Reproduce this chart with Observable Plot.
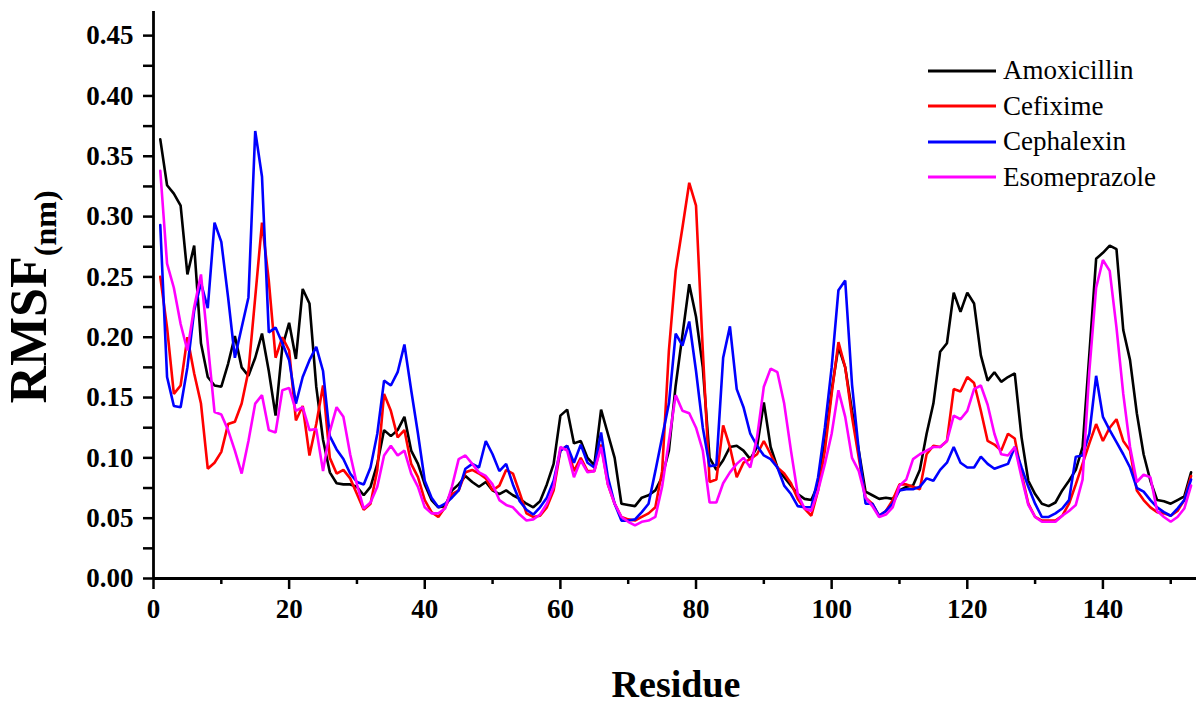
<!DOCTYPE html>
<html>
<head>
<meta charset="utf-8">
<script src="https://cdn.jsdelivr.net/npm/d3@7"></script>
<script src="https://cdn.jsdelivr.net/npm/@observablehq/plot@0.6"></script>
<style>
  html, body { margin: 0; padding: 0; background: #fff; }
  #wrap { position: relative; width: 1197px; height: 705px; overflow: hidden; }
  #legend { position: absolute; left: 928px; top: 53px; font-family: "Liberation Serif", "Times New Roman", Times, "DejaVu Serif", serif; font-size: 27px; color: #000; }
  #legend .row { display: flex; align-items: center; height: 35.5px; }
  #legend svg { margin-right: 7px; }
  svg text { font-family: "Liberation Serif", "Times New Roman", Times, "DejaVu Serif", serif; }
</style>
</head>
<body>
<div id="wrap"></div>
<script>
const residues = d3.range(1, 154);
const seriesNames = ["Amoxicillin", "Cefixime", "Cephalexin", "Esomeprazole"];
const seriesColors = ["#000000", "#ff0000", "#0000ff", "#ff00ff"];
const xTicks = [0, 20, 40, 60, 80, 100, 120, 140];
const xMinorTicks = [10, 30, 50, 70, 90, 110, 130, 150];
const yTicks = [0, 0.05, 0.10, 0.15, 0.20, 0.25, 0.30, 0.35, 0.40, 0.45];
const yMinorTicks = [0.025, 0.075, 0.125, 0.175, 0.225, 0.275, 0.325, 0.375, 0.425];

const amoxicillin = [
0.364,0.326,0.319,0.309,0.252,0.276,0.195,0.167,0.160,0.159,
0.178,0.201,0.175,0.168,0.183,0.203,0.172,0.135,0.192,0.212,
0.182,0.240,0.228,0.159,0.115,0.088,0.079,0.078,0.078,0.076,
0.069,0.076,0.095,0.123,0.118,0.123,0.134,0.106,0.095,0.078,
0.065,0.059,0.060,0.073,0.078,0.085,0.080,0.076,0.080,0.073,
0.070,0.073,0.069,0.066,0.062,0.059,0.064,0.078,0.095,0.135,
0.140,0.112,0.114,0.100,0.094,0.140,0.120,0.100,0.062,0.061,
0.060,0.067,0.069,0.073,0.084,0.106,0.160,0.202,0.244,0.217,
0.175,0.100,0.090,0.098,0.109,0.110,0.106,0.099,0.109,0.146,
0.109,0.092,0.084,0.077,0.070,0.066,0.065,0.078,0.112,0.156,
0.192,0.175,0.139,0.106,0.072,0.069,0.066,0.067,0.066,0.073,
0.076,0.077,0.090,0.120,0.145,0.188,0.195,0.237,0.221,0.237,
0.228,0.185,0.164,0.171,0.163,0.167,0.170,0.117,0.081,0.070,
0.062,0.060,0.063,0.073,0.081,0.090,0.109,0.186,0.265,0.270,
0.276,0.273,0.206,0.181,0.137,0.103,0.081,0.065,0.064,0.062,
0.065,0.068,0.088];

const cefixime = [
0.250,0.208,0.153,0.160,0.200,0.170,0.145,0.091,0.096,0.105,
0.128,0.130,0.145,0.172,0.233,0.295,0.247,0.183,0.200,0.189,
0.131,0.143,0.102,0.128,0.160,0.100,0.087,0.090,0.083,0.070,
0.057,0.062,0.090,0.153,0.139,0.117,0.123,0.095,0.084,0.065,
0.055,0.051,0.059,0.070,0.073,0.088,0.090,0.087,0.083,0.073,
0.077,0.090,0.087,0.071,0.054,0.051,0.052,0.059,0.073,0.106,
0.110,0.089,0.100,0.089,0.089,0.111,0.078,0.062,0.051,0.049,
0.048,0.051,0.054,0.059,0.089,0.189,0.255,0.291,0.328,0.309,
0.189,0.080,0.082,0.127,0.109,0.084,0.096,0.099,0.103,0.114,
0.103,0.092,0.087,0.079,0.066,0.058,0.052,0.073,0.106,0.153,
0.196,0.175,0.134,0.100,0.067,0.062,0.052,0.056,0.065,0.078,
0.078,0.076,0.074,0.103,0.110,0.109,0.114,0.157,0.155,0.167,
0.162,0.139,0.114,0.111,0.106,0.120,0.116,0.087,0.062,0.051,
0.048,0.048,0.048,0.052,0.062,0.078,0.095,0.112,0.128,0.114,
0.125,0.132,0.114,0.106,0.073,0.065,0.059,0.055,0.054,0.052,
0.056,0.065,0.085];

const cephalexin = [
0.293,0.167,0.143,0.142,0.175,0.222,0.245,0.224,0.295,0.279,
0.233,0.183,0.208,0.233,0.371,0.333,0.204,0.208,0.195,0.181,
0.145,0.167,0.181,0.192,0.172,0.118,0.107,0.099,0.087,0.080,
0.078,0.092,0.120,0.164,0.160,0.171,0.194,0.156,0.120,0.081,
0.067,0.059,0.062,0.067,0.073,0.091,0.095,0.092,0.114,0.103,
0.089,0.095,0.078,0.064,0.057,0.053,0.059,0.067,0.081,0.106,
0.110,0.096,0.111,0.096,0.092,0.121,0.084,0.062,0.048,0.048,
0.049,0.055,0.062,0.089,0.117,0.145,0.203,0.193,0.213,0.172,
0.125,0.093,0.094,0.183,0.209,0.157,0.142,0.120,0.110,0.102,
0.099,0.092,0.077,0.070,0.060,0.059,0.059,0.084,0.125,0.175,
0.239,0.247,0.161,0.106,0.062,0.062,0.052,0.056,0.062,0.073,
0.074,0.074,0.076,0.083,0.081,0.090,0.096,0.109,0.096,0.092,
0.092,0.101,0.095,0.091,0.093,0.095,0.109,0.092,0.076,0.062,
0.051,0.051,0.054,0.058,0.065,0.101,0.102,0.120,0.168,0.134,
0.123,0.113,0.103,0.092,0.075,0.072,0.065,0.059,0.055,0.052,
0.058,0.065,0.082];

const esomeprazole = [
0.338,0.261,0.241,0.211,0.189,0.225,0.252,0.195,0.138,0.136,
0.123,0.106,0.087,0.114,0.145,0.152,0.123,0.121,0.156,0.158,
0.139,0.142,0.123,0.124,0.089,0.122,0.142,0.134,0.103,0.078,
0.058,0.063,0.076,0.102,0.110,0.102,0.106,0.087,0.076,0.059,
0.054,0.054,0.058,0.076,0.099,0.102,0.095,0.088,0.085,0.078,
0.065,0.061,0.059,0.053,0.048,0.049,0.053,0.062,0.076,0.109,
0.106,0.084,0.098,0.088,0.089,0.109,0.078,0.062,0.051,0.047,
0.044,0.047,0.048,0.051,0.076,0.114,0.152,0.139,0.137,0.125,
0.106,0.063,0.063,0.079,0.088,0.095,0.100,0.092,0.117,0.159,
0.174,0.171,0.145,0.106,0.070,0.058,0.056,0.073,0.095,0.120,
0.156,0.134,0.100,0.089,0.067,0.060,0.051,0.053,0.059,0.077,
0.082,0.099,0.103,0.106,0.109,0.109,0.114,0.135,0.132,0.139,
0.157,0.160,0.144,0.120,0.103,0.102,0.109,0.084,0.061,0.051,
0.047,0.047,0.047,0.052,0.056,0.061,0.082,0.172,0.241,0.264,
0.255,0.208,0.153,0.109,0.080,0.086,0.084,0.056,0.051,0.047,
0.051,0.058,0.077];

const seriesValues = [amoxicillin, cefixime, cephalexin, esomeprazole];
const data = seriesNames.flatMap((name, k) =>
  seriesValues[k].map((v, i) => ({residue: residues[i], rmsf: v, drug: name})));

const font = '"Liberation Serif", "Times New Roman", Times, "DejaVu Serif", serif';

const chart = Plot.plot({
  width: 1197,
  height: 705,
  marginLeft: 153,
  marginRight: 1,
  marginTop: 11,
  marginBottom: 127,
  style: {fontFamily: font, background: "#fff", color: "#000"},
  x: {domain: [0, 153.8]},
  y: {domain: [0, 0.47]},
  color: {domain: seriesNames, range: seriesColors},
  marks: [
    Plot.axisX({ticks: xTicks, tickSize: 11, tickPadding: 9, tickFormat: d3.format("d"), fontSize: 27, fontWeight: "bold", strokeWidth: 2.5, label: null}),
    Plot.axisX({ticks: xMinorTicks, tickSize: 6, strokeWidth: 2.5, text: null, label: null}),
    Plot.axisY({ticks: yTicks, tickSize: 10, tickPadding: 10, tickFormat: d3.format(".2f"), fontSize: 27, fontWeight: "bold", strokeWidth: 2.5, label: null}),
    Plot.axisY({ticks: yMinorTicks, tickSize: 10, strokeWidth: 2.5, text: null, label: null}),
    Plot.lineY(data, {x: "residue", y: "rmsf", stroke: "drug", strokeWidth: 2.6, strokeLinejoin: "miter"}),
    Plot.ruleX([0], {strokeWidth: 2.8}),
    Plot.ruleY([0], {strokeWidth: 3})
  ]
});

const wrap = document.getElementById("wrap");
wrap.appendChild(chart);

// axis titles
const svg = d3.select(chart);
svg.append("text")
  .attr("x", 676).attr("y", 697)
  .attr("text-anchor", "middle")
  .style("font-family", font).attr("font-weight", "bold").attr("font-size", 38)
  .text("Residue");
const yt = svg.append("text")
  .attr("transform", "translate(46,297) rotate(-90)")
  .attr("text-anchor", "middle")
  .style("font-family", font).attr("font-weight", "bold").attr("font-size", 52);
yt.append("tspan").text("RMSF");
yt.append("tspan").attr("font-size", 32).attr("dy", 10).text("(nm)");

// legend
const legend = document.createElement("div");
legend.id = "legend";
seriesNames.forEach((name, k) => {
  const row = document.createElement("div");
  row.className = "row";
  row.innerHTML = `<svg width="68" height="6"><line x1="0" x2="68" y1="3" y2="3" stroke="${seriesColors[k]}" stroke-width="3"/></svg><span>${name}</span>`;
  legend.appendChild(row);
});
wrap.appendChild(legend);
</script>
</body>
</html>
